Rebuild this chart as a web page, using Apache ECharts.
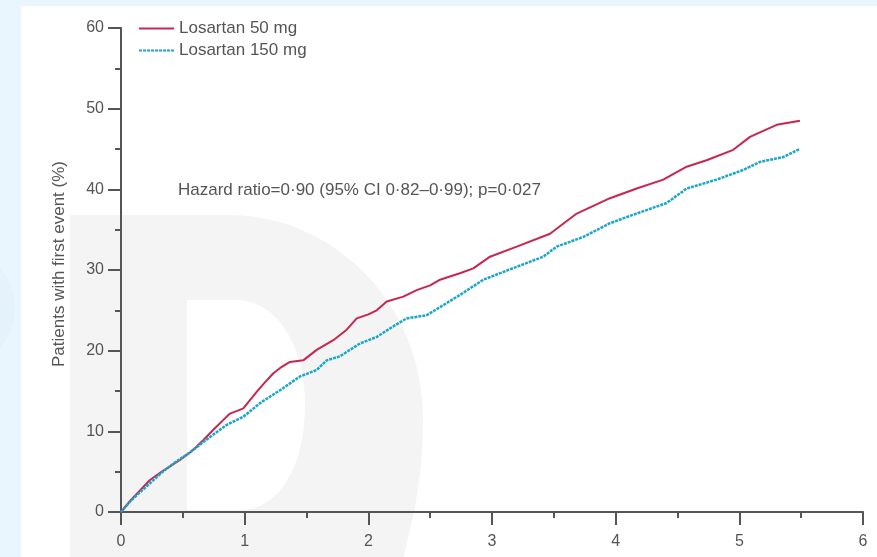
<!DOCTYPE html>
<html>
<head>
<meta charset="utf-8">
<script src="https://cdn.jsdelivr.net/npm/echarts@6/dist/echarts.min.js"></script>
<style>
html,body{margin:0;padding:0;background:#eaf6fd;}
#c{width:877px;height:557px;}
</style>
</head>
<body>
<div id="c"></div>
<script>
// ---- data ----
var seriesNames = ['Losartan 50 mg', 'Losartan 150 mg'];
var xTicks = [0, 1, 2, 3, 4, 5, 6];
var yTicks = [0, 10, 20, 30, 40, 50, 60];
var annotation = 'Hazard ratio=0·90 (95% CI 0·82–0·99); p=0·027';

var time50 = [0, 0.08, 0.15, 0.234, 0.33, 0.477, 0.56, 0.61, 0.665, 0.747, 0.82, 0.881, 0.95, 0.989, 1.097, 1.16, 1.232, 1.3, 1.366, 1.474, 1.582, 1.717, 1.825, 1.906, 2.0, 2.068, 2.149, 2.283, 2.391, 2.5, 2.58, 2.74, 2.849, 2.984, 3.2, 3.469, 3.685, 3.954, 4.17, 4.385, 4.574, 4.735, 4.951, 5.086, 5.302, 5.49];
var value50 = [0, 1.5, 2.6, 3.97, 5.0, 6.45, 7.4, 8.1, 8.9, 10.2, 11.3, 12.2, 12.6, 12.85, 14.9, 16.0, 17.2, 18.0, 18.6, 18.8, 20.1, 21.3, 22.6, 24.0, 24.5, 25.0, 26.1, 26.7, 27.5, 28.1, 28.8, 29.6, 30.2, 31.65, 32.9, 34.5, 37.0, 38.9, 40.1, 41.2, 42.8, 43.6, 44.9, 46.5, 48.0, 48.5];

var time150 = [0, 0.08, 0.15, 0.234, 0.33, 0.45, 0.55, 0.61, 0.72, 0.854, 0.989, 1.124, 1.286, 1.447, 1.582, 1.663, 1.77, 1.933, 2.068, 2.2, 2.31, 2.472, 2.58, 2.74, 2.93, 3.2, 3.415, 3.523, 3.739, 3.954, 4.17, 4.412, 4.574, 4.816, 5.031, 5.166, 5.355, 5.49];
var value150 = [0, 1.4, 2.4, 3.55, 4.9, 6.3, 7.3, 8.0, 9.3, 10.8, 11.8, 13.5, 15.1, 16.8, 17.6, 18.8, 19.3, 20.9, 21.7, 23.0, 24.0, 24.4, 25.4, 26.9, 28.8, 30.4, 31.65, 32.9, 34.1, 35.8, 37.0, 38.3, 40.1, 41.2, 42.4, 43.4, 44.0, 45.0];

function pairs(t, v){ return t.map(function(x,i){ return [x, v[i]]; }); }

// decorative watermark outline helper (background only)
function bez(p0, p1, p2, p3, n){
  var out = [];
  for (var i = 1; i <= n; i++){
    var s = i / n, u = 1 - s;
    out.push([
      u*u*u*p0[0] + 3*u*u*s*p1[0] + 3*u*s*s*p2[0] + s*s*s*p3[0],
      u*u*u*p0[1] + 3*u*u*s*p1[1] + 3*u*s*s*p2[1] + s*s*s*p3[1]
    ]);
  }
  return out;
}
var outerD = [[70,215],[230,215]]
  .concat(bez([230,215],[330,215],[423,300],[423,420],24))
  .concat(bez([423,420],[423,480],[413,520],[400,570],12))
  .concat([[70,570]]);
var innerD = [[187,300],[235,300]]
  .concat(bez([235,300],[280,300],[305,350],[305,405],16))
  .concat(bez([305,405],[305,465],[280,510],[240,510],16))
  .concat([[187,510]]);

var FONT = '"Liberation Sans", Arial, sans-serif';
var TXT = '#555';
var AX = '#555';

var chart = echarts.init(document.getElementById('c'), null, {renderer:'canvas'});
chart.setOption({
  backgroundColor: 'transparent',
  animation: false,
  textStyle: {fontFamily: FONT},
  graphic: [
    {type:'circle', z:-11, shape:{cx:-45, cy:308, r:60}, style:{fill:'#e4f2fb'}},
    {type:'rect', z:-10, shape:{x:21, y:6, width:900, height:600}, style:{fill:'#ffffff'}},
    {type:'polygon', z:-9, shape:{points:outerD}, style:{fill:'#f4f4f4'}},
    {type:'polygon', z:-8, shape:{points:innerD}, style:{fill:'#ffffff'}},
    {type:'text', z:10, x:178, y:182, style:{text:annotation, fill:TXT, font:'17px ' + FONT}}
  ],
  legend: {
    orient:'vertical', left:133, top:15, itemWidth:35, itemHeight:14, itemGap:5,
    itemStyle:{opacity:0},
    textStyle:{fontSize:17, color:TXT, fontFamily:FONT},
    data: seriesNames
  },
  grid: {left:121, right:14, top:28, bottom:45, containLabel:false},
  xAxis: {
    type:'value', min:xTicks[0], max:xTicks[xTicks.length-1], interval:1,
    splitLine:{show:false},
    axisLine:{lineStyle:{color:AX, width:2}},
    axisTick:{show:true, length:13, lineStyle:{color:AX, width:2}},
    minorTick:{show:true, splitNumber:2, length:6, lineStyle:{color:AX, width:2}},
    axisLabel:{margin:22, fontSize:16, color:TXT, fontFamily:FONT}
  },
  yAxis: {
    type:'value', min:yTicks[0], max:yTicks[yTicks.length-1], interval:10,
    name:'Patients with first event (%)', nameLocation:'middle', nameGap:53, nameRotate:90,
    nameTextStyle:{fontSize:17, color:TXT, fontFamily:FONT, padding:[0,0,0,12]},
    splitLine:{show:false},
    axisLine:{show:true, lineStyle:{color:AX, width:2}},
    axisTick:{show:true, length:13, lineStyle:{color:AX, width:2}},
    minorTick:{show:true, splitNumber:2, length:6, lineStyle:{color:AX, width:2}},
    axisLabel:{margin:17, fontSize:16, color:TXT, fontFamily:FONT}
  },
  series: [
    {name:seriesNames[0], type:'line', data:pairs(time50, value50), symbol:'none', z:3,
     lineStyle:{color:'#c9264f', width:2}, itemStyle:{color:'#c9264f'}},
    {name:seriesNames[1], type:'line', data:pairs(time150, value150), symbol:'none', z:4,
     lineStyle:{color:'#1ba6c9', width:2.5, type:[3,1]}, itemStyle:{color:'#1ba6c9'}}
  ]
});
</script>
</body>
</html>
